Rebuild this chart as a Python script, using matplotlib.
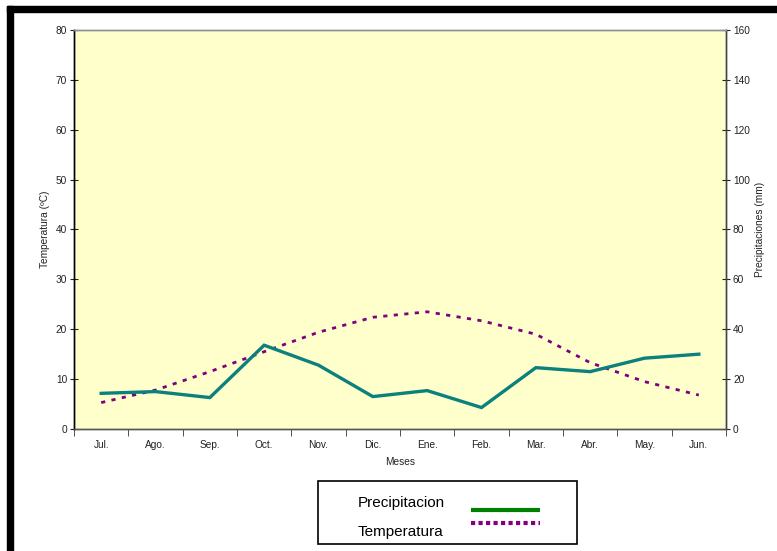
import matplotlib
matplotlib.use("Agg")
import matplotlib.pyplot as plt
from matplotlib.lines import Line2D
from matplotlib.patches import Rectangle

plt.rcParams["font.family"] = ["Liberation Sans", "DejaVu Sans"]

# Monthly data
meses = ["Jul.", "Ago.", "Sep.", "Oct.", "Nov.", "Dic.",
         "Ene.", "Feb.", "Mar.", "Abr.", "May.", "Jun."]
temperatura = [5.3, 7.8, 11.5, 15.5, 19.4, 22.4, 23.5, 21.7, 19.0, 13.3, 9.5, 6.8]
precipitacion = [14.3, 15.0, 12.6, 33.6, 25.6, 13.0, 15.4, 8.6, 24.6, 23.0, 28.4, 30.0]

fig = plt.figure(figsize=(7.77, 5.51), dpi=100)
ax = fig.add_axes([74 / 777, 1 - 429 / 551, 652 / 777, 399 / 551])
ax.set_facecolor("#ffffcc")
ax2 = ax.twinx()

x = list(range(len(meses)))
ax.plot(x, temperatura, color="#800080", lw=2.0, linestyle=(0, (1.5, 2.3)),
        solid_capstyle="butt", dash_capstyle="butt", zorder=3)
ax2.plot(x, precipitacion, color="#0c807c", lw=2.4, solid_joinstyle="miter", zorder=4)

ax.set_xlim(-0.5, len(meses) - 0.5)
ax.set_ylim(0, 80)
ax2.set_ylim(0, 160)
ax.set_yticks(range(0, 81, 10))
ax2.set_yticks(range(0, 161, 20))
ax.set_xticks(x)
ax.set_xticklabels(meses)
ax.set_xticks([i - 0.5 for i in range(len(meses) + 1)], minor=True)
ax.tick_params(axis="x", which="major", length=0, labelsize=7.3, pad=8, colors="#222222")
ax.tick_params(axis="x", which="minor", length=5, direction="out", color="#333333")
ax.tick_params(axis="y", length=6, direction="inout", labelsize=7.3, pad=2, colors="#222222")
ax2.tick_params(axis="y", length=6, direction="inout", labelsize=7.3, pad=2, colors="#222222")

for a in (ax, ax2):
    a.spines["left"].set_color("#000000")
    a.spines["bottom"].set_color("#555555")
    a.spines["top"].set_color("#909090")
    a.spines["right"].set_color("#444444")
    for s in a.spines.values():
        s.set_linewidth(1.0)

ax.set_xlabel("Meses", fontsize=7.3, color="#222222", labelpad=5)
ax.set_ylabel("Temperatura (ºC)", fontsize=7.3, color="#222222", labelpad=4)
ax2.set_ylabel("Precipitaciones (mm)", fontsize=7.3, color="#222222", labelpad=4)

# thick black frame at top and left
fig.patches.append(Rectangle((7 / 777, 1 - 12 / 551), 1, 6 / 551,
                             transform=fig.transFigure, color="black", zorder=0))
fig.patches.append(Rectangle((7 / 777, 0), 6 / 777, 1 - 6 / 551,
                             transform=fig.transFigure, color="black", zorder=0))

# legend box drawn by hand like the original
fig.patches.append(Rectangle((318 / 777, 1 - 544 / 551), 259 / 777, 63 / 551,
                             transform=fig.transFigure, facecolor="white",
                             edgecolor="black", lw=1.2))
fig.text(358 / 777, 1 - 503 / 551, "Precipitacion", fontsize=11, va="center", ha="left")
fig.text(358 / 777, 1 - 532 / 551, "Temperatura", fontsize=11, va="center", ha="left")
fig.lines.append(Line2D([471 / 777, 540 / 777], [1 - 510 / 551, 1 - 510 / 551],
                        transform=fig.transFigure, color="#008000", lw=3,
                        solid_capstyle="butt"))
fig.lines.append(Line2D([471 / 777, 540 / 777], [1 - 523 / 551, 1 - 523 / 551],
                        transform=fig.transFigure, color="#800080", lw=3,
                        linestyle=(0, (1, 0.8)), dash_capstyle="butt"))

fig.savefig("out.png", dpi=100)
